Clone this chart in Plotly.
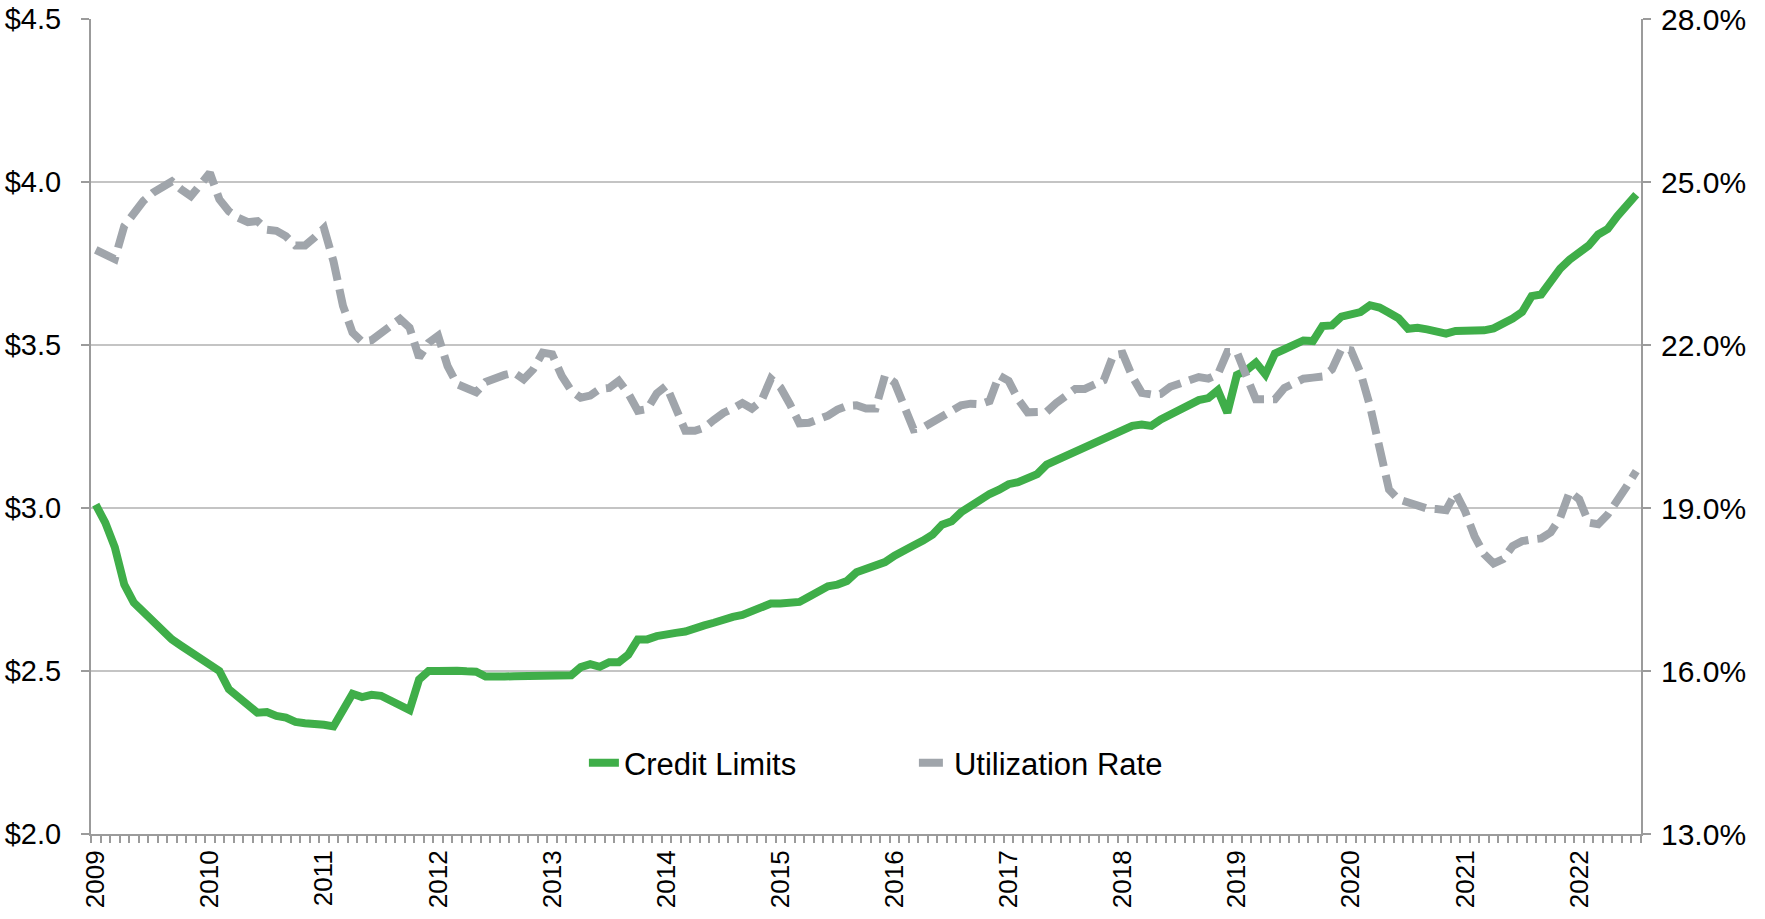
import plotly.graph_objects as go

# monthly observations, Jan 2009 .. Jul 2022
credit_limits = [
    3.01, 2.955, 2.88, 2.765, 2.71, 2.68, 2.65, 2.62, 2.597, 2.577, 2.556, 2.538,
    2.52, 2.50, 2.444, 2.418, 2.393, 2.372, 2.374, 2.362, 2.357, 2.344, 2.34, 2.34,
    2.335, 2.33, 2.378, 2.43, 2.42, 2.427, 2.424, 2.41, 2.395, 2.38, 2.474, 2.50,
    2.50, 2.503, 2.501, 2.499, 2.498, 2.483, 2.481, 2.483, 2.484, 2.485, 2.48, 2.483,
    2.485, 2.485, 2.487, 2.512, 2.521, 2.513, 2.527, 2.527, 2.55, 2.597, 2.597, 2.607,
    2.614, 2.617, 2.621, 2.633, 2.64, 2.648, 2.66, 2.666, 2.672, 2.684, 2.691, 2.707,
    2.707, 2.707, 2.712, 2.728, 2.742, 2.76, 2.765, 2.776, 2.803, 2.813, 2.823, 2.834,
    2.854, 2.867, 2.885, 2.90, 2.918, 2.949, 2.959, 2.987, 3.007, 3.022, 3.043, 3.056,
    3.073, 3.079, 3.09, 3.104, 3.133, 3.146, 3.156, 3.173, 3.184, 3.20, 3.211, 3.221,
    3.239, 3.252, 3.256, 3.252, 3.272, 3.287, 3.305, 3.318, 3.331, 3.337, 3.361, 3.292,
    3.408, 3.422, 3.446, 3.41, 3.474, 3.487, 3.502, 3.514, 3.512, 3.558, 3.56, 3.587,
    3.594, 3.601, 3.622, 3.615, 3.599, 3.582, 3.55, 3.553, 3.548, 3.54, 3.535, 3.543,
    3.542, 3.542, 3.545, 3.551, 3.563, 3.581, 3.601, 3.65, 3.655, 3.695, 3.734, 3.762,
    3.781, 3.805, 3.839, 3.856, 3.895, 3.926, 3.961,
]
utilization_rate = [
    23.75, 23.68, 23.58, 24.19, 24.43, 24.65, 24.8, 24.9, 25.01, 24.86, 24.74, 24.95,
    25.17, 24.68, 24.46, 24.34, 24.26, 24.28, 24.12, 24.1, 24.0, 23.83, 23.83, 23.98,
    24.15, 23.54, 22.72, 22.23, 22.06, 22.09, 22.2, 22.35, 22.48, 22.32, 21.77, 22.04,
    22.17, 21.61, 21.28, 21.19, 21.13, 21.32, 21.4, 21.45, 21.49, 21.37, 21.55, 21.86,
    21.83, 21.43, 21.16, 21.03, 21.07, 21.19, 21.21, 21.34, 21.11, 20.79, 20.82, 21.11,
    21.25, 20.87, 20.42, 20.42, 20.48, 20.62, 20.75, 20.83, 20.93, 20.83, 20.97, 21.38,
    21.22, 20.91, 20.56, 20.57, 20.62, 20.7, 20.81, 20.88, 20.89, 20.83, 20.83, 21.44,
    21.31, 20.83, 20.45, 20.48, 20.59, 20.71, 20.82, 20.89, 20.92, 20.91, 20.97, 21.44,
    21.34, 21.0, 20.76, 20.76, 20.77, 20.93, 21.05, 21.19, 21.19, 21.26, 21.35, 21.81,
    21.84, 21.42, 21.12, 21.09, 21.1, 21.23, 21.29, 21.36, 21.41, 21.38, 21.46, 21.87,
    21.87, 21.43, 21.0, 21.0, 21.0, 21.21, 21.29, 21.38, 21.4, 21.42, 21.55, 21.93,
    21.9, 21.49, 20.88, 20.08, 19.34, 19.16, 19.11, 19.05, 18.99, 18.98, 18.96, 19.28,
    18.94, 18.48, 18.15, 17.98, 18.06, 18.3, 18.39, 18.42, 18.44, 18.55, 18.82, 19.3,
    19.16, 18.73, 18.7, 18.88, 19.11, 19.4, 19.68,
]
year_labels = [str(y) for y in range(2009, 2023)]

months = list(range(len(credit_limits)))
year_ticks = [12 * k for k in range(len(year_labels))]

GREEN = "#3FAE49"
GREY = "#A0A5AB"
AXIS = "#9B9B9B"

fig = go.Figure()
fig.add_trace(go.Scatter(x=months, y=credit_limits, name="Credit Limits", mode="lines",
                         line=dict(color=GREEN, width=8)))
fig.add_trace(go.Scatter(x=months, y=utilization_rate, name="Utilization Rate", mode="lines",
                         yaxis="y2", line=dict(color=GREY, width=8, dash="24px,9px")))

fig.update_layout(
    width=1765, height=919,
    margin=dict(l=91, r=124, t=19, b=85),
    paper_bgcolor="white", plot_bgcolor="white",
    font=dict(family="Liberation Sans, Arial, sans-serif", color="black"),
    xaxis=dict(
        range=[-0.5, len(months) - 0.5], automargin=False,
        tickmode="array", tickvals=year_ticks, ticktext=year_labels,
        tickangle=-90, tickfont=dict(size=26),
        ticks="outside", ticklen=4, tickcolor="rgba(0,0,0,0)",
        showline=True, linecolor=AXIS, linewidth=2,
        showgrid=False, zeroline=False,
        minor=dict(tick0=-0.5, dtick=1, ticks="outside", ticklen=7,
                   tickcolor=AXIS, tickwidth=1.5, showgrid=False),
    ),
    yaxis=dict(
        range=[2.0, 4.5], tick0=2.0, dtick=0.5, tickformat="$.1f",
        tickfont=dict(size=29), automargin=False, ticklabeloverflow="allow",
        showgrid=True, gridcolor="#C4C4C4", gridwidth=2,
        showline=True, linecolor=AXIS, linewidth=2,
        ticks="outside", ticklen=8, tickcolor=AXIS, tickwidth=2,
        ticklabelstandoff=14, zeroline=False,
    ),
    yaxis2=dict(
        range=[13, 28], tick0=13, dtick=3, tickformat=".1f", ticksuffix="%",
        tickfont=dict(size=30), overlaying="y", side="right",
        automargin=False, ticklabeloverflow="allow",
        showgrid=False, showline=True, linecolor=AXIS, linewidth=2,
        ticks="outside", ticklen=8, tickcolor=AXIS, tickwidth=2,
        ticklabelstandoff=4, zeroline=False,
    ),
    legend=dict(orientation="h", x=0.318, xanchor="left", y=0.087, yanchor="middle",
                font=dict(size=31), bgcolor="rgba(0,0,0,0)", entrywidth=285),
    showlegend=True,
)

# drop the browser's default 8px body margin so the figure fills the window
fig.write_html("out.html", config={"displayModeBar": False},
               post_script="document.body.style.margin = '0';")
